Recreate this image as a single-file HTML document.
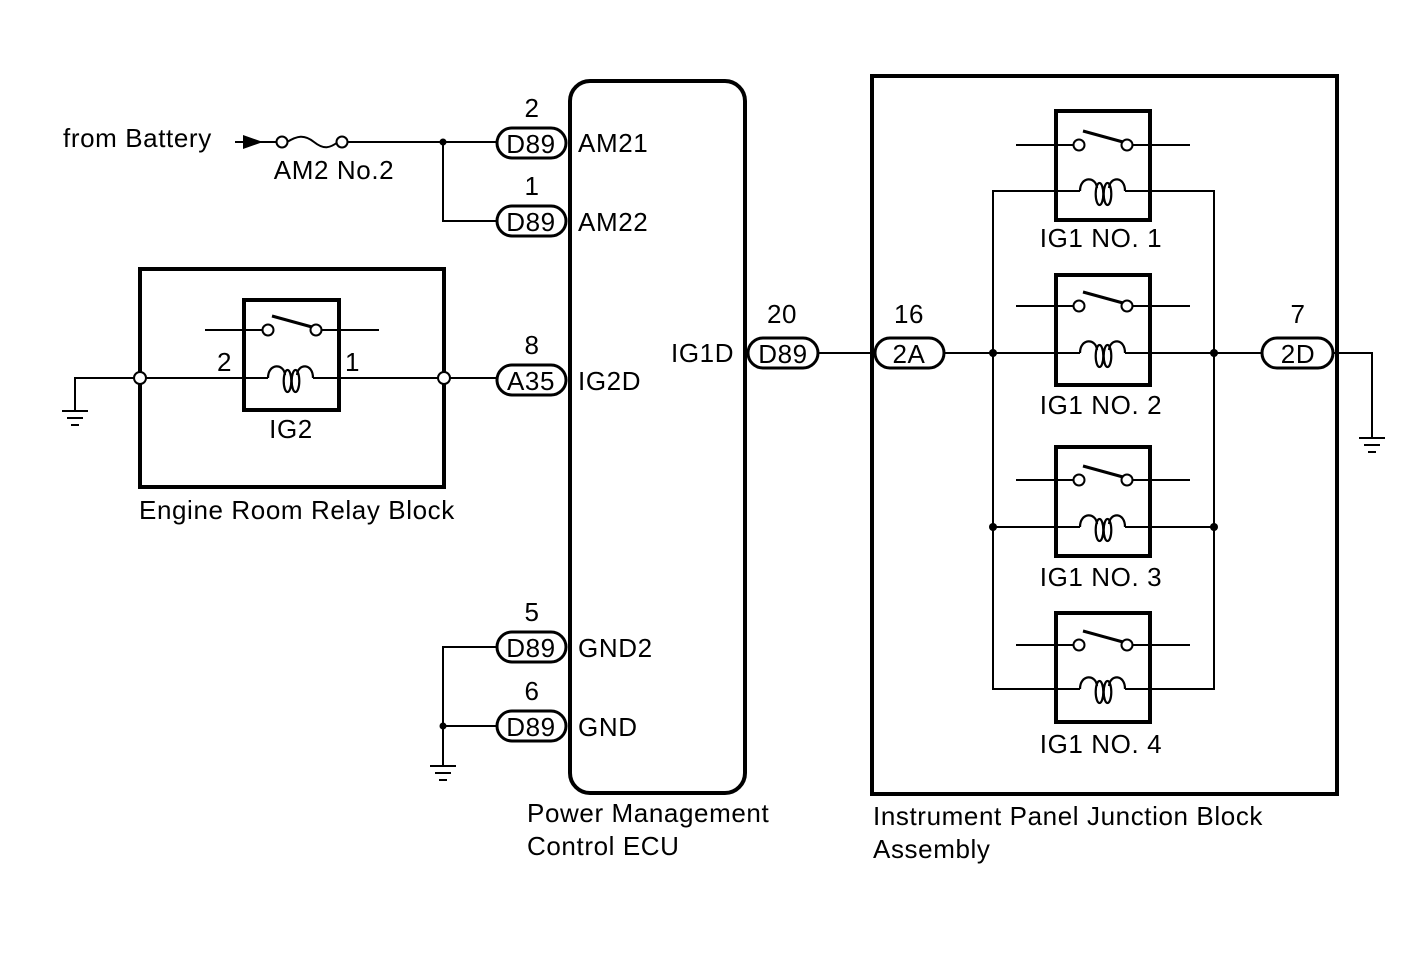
<!DOCTYPE html>
<html><head><meta charset="utf-8"><style>
html,body{margin:0;padding:0;background:#fff;}
svg{display:block;}
text{font-family:"Liberation Sans",Arial,sans-serif;font-size:26px;letter-spacing:0.6px;fill:#000;}
</style></head><body>
<svg width="1424" height="959" viewBox="0 0 1424 959" xmlns="http://www.w3.org/2000/svg">
<defs>
<g id="coil" fill="none" stroke="#000" stroke-width="2.2">
  <path d="M0,0 C0,-15 16,-15 17,-3"/>
  <ellipse cx="19.5" cy="3" rx="3.8" ry="11"/>
  <ellipse cx="27.5" cy="3" rx="3.8" ry="11"/>
  <path d="M29,-3 C30,-15 45,-15 45,0"/>
</g>
<g id="sw" fill="#fff" stroke="#000" stroke-width="2">
  <line x1="0" y1="0" x2="58" y2="0"/>
  <line x1="116" y1="0" x2="174" y2="0"/>
  <line x1="67" y1="-14" x2="107" y2="-3" stroke-width="3"/>
  <circle cx="63" cy="0" r="5.5"/>
  <circle cx="111" cy="0" r="5.5"/>
</g>
<g id="gnd" stroke="#000" stroke-width="2">
  <line x1="-13" y1="0" x2="13" y2="0"/>
  <line x1="-8" y1="7" x2="8" y2="7"/>
  <line x1="-4" y1="14" x2="4" y2="14"/>
</g>
</defs>

<g fill="none" stroke="#000" stroke-width="2">
  <line x1="235" y1="142" x2="278" y2="142"/>
  <line x1="347" y1="142" x2="497" y2="142"/>
  <path d="M287,142 C297,136 304,134 314,142 C324,150 330,148 338,142"/>
  <path d="M443,142 V221 H497"/>
  <path d="M75,410 V378 H134"/>
  <line x1="146" y1="378" x2="268" y2="378"/>
  <line x1="313" y1="378" x2="438" y2="378"/>
  <line x1="450" y1="378" x2="497" y2="378"/>
  <path d="M497,647 H443 V765"/>
  <line x1="443" y1="726" x2="497" y2="726"/>
  <line x1="818" y1="353" x2="875" y2="353"/>
  <line x1="944" y1="353" x2="1080" y2="353"/>
  <line x1="1125" y1="353" x2="1262" y2="353"/>
  <path d="M1333,353 H1372 V437"/>
  <path d="M1080,191 H993 V689 H1080"/>
  <path d="M1125,191 H1214 V689 H1125"/>
  <line x1="993" y1="527" x2="1080" y2="527"/>
  <line x1="1125" y1="527" x2="1214" y2="527"/>
</g>
<path d="M243,135 L263,142 L243,149 Z" fill="#000"/>
<circle cx="282" cy="142" r="5.5" fill="#fff" stroke="#000" stroke-width="2"/>
<circle cx="342" cy="142" r="5.5" fill="#fff" stroke="#000" stroke-width="2"/>
<g fill="#000">
<circle cx="443" cy="142" r="3.5"/>
<circle cx="443" cy="726" r="3.5"/>
<circle cx="993" cy="353" r="4"/><circle cx="1214" cy="353" r="4"/>
<circle cx="993" cy="527" r="4"/><circle cx="1214" cy="527" r="4"/>
</g>

<use href="#gnd" x="75" y="411"/>
<use href="#gnd" x="443" y="766"/>
<use href="#gnd" x="1372" y="438"/>

<g fill="none" stroke="#000" stroke-width="4">
  <rect x="570" y="81" width="175" height="712" rx="20"/>
  <rect x="140" y="269" width="304" height="218"/>
  <rect x="872" y="76" width="465" height="718"/>
  <rect x="244" y="300" width="95" height="110"/>
  <rect x="1056" y="111" width="94" height="109"/>
  <rect x="1056" y="275" width="94" height="110"/>
  <rect x="1056" y="447" width="94" height="109"/>
  <rect x="1056" y="613" width="94" height="109"/>
</g>
<circle cx="140" cy="378" r="6" fill="#fff" stroke="#000" stroke-width="2"/>
<circle cx="444" cy="378" r="6" fill="#fff" stroke="#000" stroke-width="2"/>

<use href="#sw" x="205" y="330"/>
<use href="#coil" x="268" y="378"/>
<use href="#sw" x="1016" y="145"/>
<use href="#coil" x="1080" y="191"/>
<use href="#sw" x="1016" y="306"/>
<use href="#coil" x="1080" y="353"/>
<use href="#sw" x="1016" y="480"/>
<use href="#coil" x="1080" y="527"/>
<use href="#sw" x="1016" y="645"/>
<use href="#coil" x="1080" y="689"/>

<g fill="#fff" stroke="#000" stroke-width="3">
  <rect x="497" y="128" width="69" height="30" rx="15"/>
  <rect x="497" y="206" width="69" height="30" rx="15"/>
  <rect x="497" y="365" width="69" height="30" rx="15"/>
  <rect x="497" y="632" width="69" height="30" rx="15"/>
  <rect x="497" y="711" width="69" height="30" rx="15"/>
  <rect x="748" y="338" width="70" height="30" rx="15"/>
  <rect x="875" y="338" width="69" height="30" rx="15"/>
  <rect x="1262" y="338" width="71" height="30" rx="15"/>
</g>

<g text-anchor="middle">
  <text x="531" y="153">D89</text><text x="532" y="117">2</text>
  <text x="531" y="231">D89</text><text x="532" y="195">1</text>
  <text x="531" y="390">A35</text><text x="532" y="354">8</text>
  <text x="531" y="657">D89</text><text x="532" y="621">5</text>
  <text x="531" y="736">D89</text><text x="532" y="700">6</text>
  <text x="783" y="363">D89</text><text x="782" y="323">20</text>
  <text x="909" y="363">2A</text><text x="909" y="323">16</text>
  <text x="1298" y="363">2D</text><text x="1298" y="323">7</text>
  <text x="334" y="179">AM2 No.2</text>
  <text x="291" y="438">IG2</text>
  <text x="1101" y="247">IG1 NO. 1</text>
  <text x="1101" y="414">IG1 NO. 2</text>
  <text x="1101" y="586">IG1 NO. 3</text>
  <text x="1101" y="753">IG1 NO. 4</text>
</g>
<text x="63" y="147">from Battery</text>
<text x="578" y="152">AM21</text>
<text x="578" y="231">AM22</text>
<text x="578" y="390">IG2D</text>
<text x="578" y="657">GND2</text>
<text x="578" y="736">GND</text>
<text x="671" y="362">IG1D</text>
<text x="217" y="371">2</text>
<text x="345" y="371">1</text>
<text x="139" y="519">Engine Room Relay Block</text>
<text x="527" y="822">Power Management</text>
<text x="527" y="855">Control ECU</text>
<text x="873" y="825">Instrument Panel Junction Block</text>
<text x="873" y="858">Assembly</text>
</svg>
</body></html>
